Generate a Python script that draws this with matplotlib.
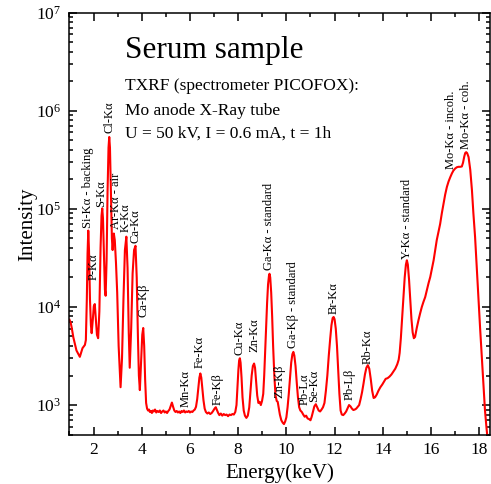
import matplotlib
matplotlib.use("Agg")
import matplotlib.pyplot as plt
from matplotlib.ticker import LogLocator, MultipleLocator, NullFormatter

plt.rcParams['font.family'] = ['Liberation Serif', 'DejaVu Serif']
plt.rcParams['mathtext.fontset'] = 'stix'

# spectrum (energy in keV, counts)
energy = [
    1.00, 1.05, 1.09, 1.16, 1.29, 1.43, 1.54, 1.64, 1.68, 1.72, 1.75, 1.78, 1.81, 1.85, 1.89, 1.92,
    1.97, 2.01, 2.05, 2.09, 2.14, 2.19,
    2.24, 2.29, 2.33, 2.36, 2.39, 2.43, 2.47, 2.50,
    2.54, 2.58, 2.62, 2.65, 2.68, 2.72, 2.76, 2.79, 2.84, 2.88, 2.93, 2.98, 3.04, 3.12,
    3.18, 3.24, 3.30, 3.36, 3.41, 3.46, 3.50,
    3.56, 3.62, 3.68, 3.74, 3.79, 3.84, 3.88, 3.92,
    3.97, 4.02, 4.06, 4.10, 4.14, 4.18, 4.22,
    4.26, 4.30, 4.34, 4.38, 4.42, 4.46, 4.50, 4.55, 4.60, 4.65, 4.70, 4.75, 4.80, 4.85, 4.90, 4.95,
    5.00, 5.05, 5.10, 5.15, 5.20, 5.25, 5.30, 5.35, 5.40, 5.45, 5.50, 5.55, 5.60, 5.65, 5.70, 5.75,
    5.80, 5.85, 5.90, 5.95, 6.00, 6.05, 6.10, 6.15, 6.20,
    6.25, 6.30, 6.35, 6.39, 6.43, 6.47, 6.51, 6.56, 6.61, 6.66, 6.72, 6.78, 6.84, 6.90, 6.96, 7.02,
    7.07, 7.12, 7.17, 7.22, 7.28, 7.34, 7.40, 7.46, 7.52, 7.58, 7.64, 7.70, 7.76, 7.82, 7.88,
    7.93, 7.97, 8.01, 8.04, 8.07, 8.10, 8.14, 8.18, 8.23, 8.28, 8.34, 8.40,
    8.46, 8.51, 8.56, 8.61, 8.66, 8.70, 8.74, 8.79, 8.84, 8.89, 8.94, 8.99, 9.04,
    9.08, 9.12, 9.16, 9.20, 9.24, 9.28, 9.30, 9.33, 9.37, 9.41, 9.45, 9.50, 9.55, 9.60, 9.64, 9.68,
    9.73, 9.79, 9.85, 9.90, 9.95, 10.00,
    10.05, 10.10, 10.15, 10.20, 10.25, 10.29, 10.33, 10.38, 10.43, 10.48, 10.53, 10.58, 10.64, 10.70,
    10.76, 10.82, 10.88, 10.94, 11.00, 11.05, 11.10, 11.16, 11.22, 11.28, 11.34, 11.40, 11.46, 11.52,
    11.58, 11.64, 11.70, 11.76, 11.82, 11.87, 11.92, 11.96, 12.00, 12.05, 12.10, 12.15, 12.20, 12.25,
    12.30, 12.36, 12.42, 12.48, 12.54, 12.60, 12.66, 12.72, 12.78, 12.84, 12.90, 12.96, 13.02,
    13.08, 13.14, 13.20, 13.26, 13.32, 13.38, 13.44, 13.50, 13.56, 13.62, 13.68, 13.75, 13.82, 13.90,
    13.98, 14.06, 14.12, 14.20, 14.28, 14.36, 14.44, 14.52, 14.60, 14.66,
    14.70, 14.75, 14.80, 14.86, 14.91, 14.96, 15.00, 15.04, 15.09, 15.14, 15.19, 15.24, 15.29, 15.34,
    15.41, 15.48, 15.55, 15.62, 15.69, 15.76, 15.83, 15.90, 15.97, 16.04, 16.11, 16.17, 16.24, 16.31,
    16.38, 16.45, 16.52, 16.59, 16.66, 16.73, 16.80, 16.87, 16.93, 17.00, 17.07, 17.14, 17.21, 17.28,
    17.33, 17.38, 17.42, 17.46, 17.50, 17.56, 17.63, 17.70, 17.76, 17.83, 17.90, 17.97, 18.04, 18.11,
    18.18, 18.24, 18.30, 18.36, 18.45,
]
counts = [
    7400, 6900, 6200, 4900, 3600, 3100, 3800, 4100, 4600, 12000, 35000, 60000, 38000, 12000, 6500, 5400,
    7500, 10200, 10700, 7800, 5200, 4800,
    9000, 40000, 85000, 101000, 80000, 35000, 15000, 13000,
    30000, 150000, 420000, 540000, 420000, 150000, 50000, 38000, 56000, 48000, 28000, 14000, 4000, 1520,
    3000, 12000, 38000, 52000, 25000, 5500, 2400,
    6000, 22000, 38000, 42000, 20000, 5000, 2000, 1420,
    2800, 5200, 6100, 4000, 1800, 1050, 920,
    880, 900, 850, 870, 830, 880, 860, 900, 840, 870, 850, 880, 830, 860, 880, 840,
    860, 830, 870, 900, 980, 1060, 960, 880, 850, 870, 840, 860, 830, 870, 850, 880,
    840, 860, 850, 870, 840, 860, 850, 880, 900,
    960, 1150, 1500, 1900, 2100, 1900, 1500, 1120, 920, 850, 820, 840, 810, 830, 870, 920,
    950, 890, 830, 790, 820, 780, 810, 790, 800, 770, 800, 790, 810, 800, 850,
    1000, 1500, 2300, 2850, 3000, 2700, 1900, 1200, 880, 780, 740, 780,
    950, 1400, 2000, 2500, 2650, 2400, 1800, 1250, 1050, 1080, 1000, 1100, 1300,
    2000, 3500, 6500, 11000, 17000, 21000, 21800, 20000, 14000, 8000, 4000, 2000, 1250, 1100, 1080, 950,
    800, 700, 660, 640, 680, 750,
    950, 1300, 1900, 2700, 3300, 3480, 3200, 2500, 1700, 1200, 950, 880, 850, 800,
    760, 780, 730, 720, 700, 760, 850, 970, 1020, 950, 880, 860, 900, 950,
    1050, 1400, 2000, 3200, 4800, 6500, 7700, 7900, 7500, 6000, 4000, 2300, 1300, 880,
    800, 790, 820, 860, 930, 1000, 970, 920, 890, 900, 920, 960, 1000,
    1150, 1350, 1650, 2050, 2400, 2550, 2350, 1850, 1400, 1180, 1200, 1280, 1400, 1520,
    1620, 1750, 1850, 1880, 1950, 2050, 2200, 2350, 2600, 2900,
    3400, 4800, 7500, 13000, 20000, 27000, 29900, 27000, 19000, 12000, 7500, 5500, 4800, 4950,
    6100, 7300, 8600, 10000, 11300, 12600, 14900, 17500, 20200, 24500, 29900, 37000, 48000, 58000,
    70000, 90000, 112000, 140000, 167000, 190000, 210000, 230000, 245000, 257000, 265000, 268000, 268000, 270000,
    295000, 340000, 370000, 378000, 370000, 337000, 250000, 155000, 90000, 51700, 25000, 11700, 6000, 3100,
    1600, 890, 600, 420, 250,
]

# peak labels: text, energy of label centre, counts at label foot
peak_labels = ['Si-Kα - backing', 'P-Kα', 'S-Kα', 'Cl-Kα', 'Ar-Kα - air', 'K-Kα', 'Ca-Kα', 'Ca-Kβ',
               'Mn-Kα', 'Fe-Kα', 'Fe-Kβ', 'Cu-Kα', 'Zn-Kα', 'Ga-Kα - standard', 'Zn-Kβ',
               'Ga-Kβ - standard', 'Pb-Lα', 'Se-Kα', 'Br-Kα', 'Pb-Lβ', 'Rb-Kα', 'Y-Kα - standard',
               'Mo-Kα - incoh.', 'Mo-Kα - coh.']
label_energy = [1.78, 2.01, 2.32, 2.68, 2.91, 3.33, 3.74, 4.06,
                5.81, 6.39, 7.13, 8.06, 8.67, 9.27, 9.72,
                10.28, 10.75, 11.17, 11.96, 12.62, 13.38, 15.00,
                16.84, 17.46]
label_counts = [64000, 18700, 104000, 590000, 63000, 58000, 44600, 7900,
                950, 2360, 1000, 3230, 3490, 23600, 1170,
                3780, 1000, 1080, 8570, 1120, 2650, 31000,
                257000, 410000]

fig = plt.figure(figsize=(4.91, 4.84), dpi=100)
ax = fig.add_axes([0.1415, 0.1012, 0.8565, 0.8728])

ax.plot(energy, counts, color='#ff0000', lw=1.5)
ax.set_yscale('log')
ax.set_xlim(1.0, 18.45)
ax.set_ylim(495, 1e7)

ax.xaxis.set_major_locator(MultipleLocator(2))
ax.xaxis.set_minor_locator(MultipleLocator(1))
ax.yaxis.set_major_locator(LogLocator(base=10, numticks=10))
ax.yaxis.set_minor_locator(LogLocator(base=10, subs=range(2, 10), numticks=20))
ax.yaxis.set_minor_formatter(NullFormatter())

ax.tick_params(which='both', direction='in', top=True, right=True, width=1.1, labelsize=12.5)
ax.tick_params(which='major', length=6)
ax.tick_params(which='minor', length=3.2)
ax.tick_params(axis='x', pad=5)
ax.tick_params(axis='y', pad=6)
for s in ax.spines.values():
    s.set_linewidth(1.1)

ax.set_xlabel('Energy(keV)', fontsize=15, labelpad=3.5)
ax.set_ylabel('Intensity', fontsize=15, labelpad=-1)

for txt, e, c in zip(peak_labels, label_energy, label_counts):
    ax.text(e, c, txt, rotation=90, ha='center', va='bottom', fontsize=9)

fig.text(0.2546, 0.8795, 'Serum sample', fontsize=22.5, va='baseline')
fig.text(0.2546, 0.814, 'TXRF (spectrometer PICOFOX):', fontsize=12.5, va='baseline')
fig.text(0.2546, 0.762, 'Mo anode X-Ray tube', fontsize=12.5, va='baseline')
fig.text(0.2546, 0.715, 'U = 50 kV, I = 0.6 mA, t = 1h', fontsize=12.5, va='baseline')

fig.savefig('out.png', dpi=100)
